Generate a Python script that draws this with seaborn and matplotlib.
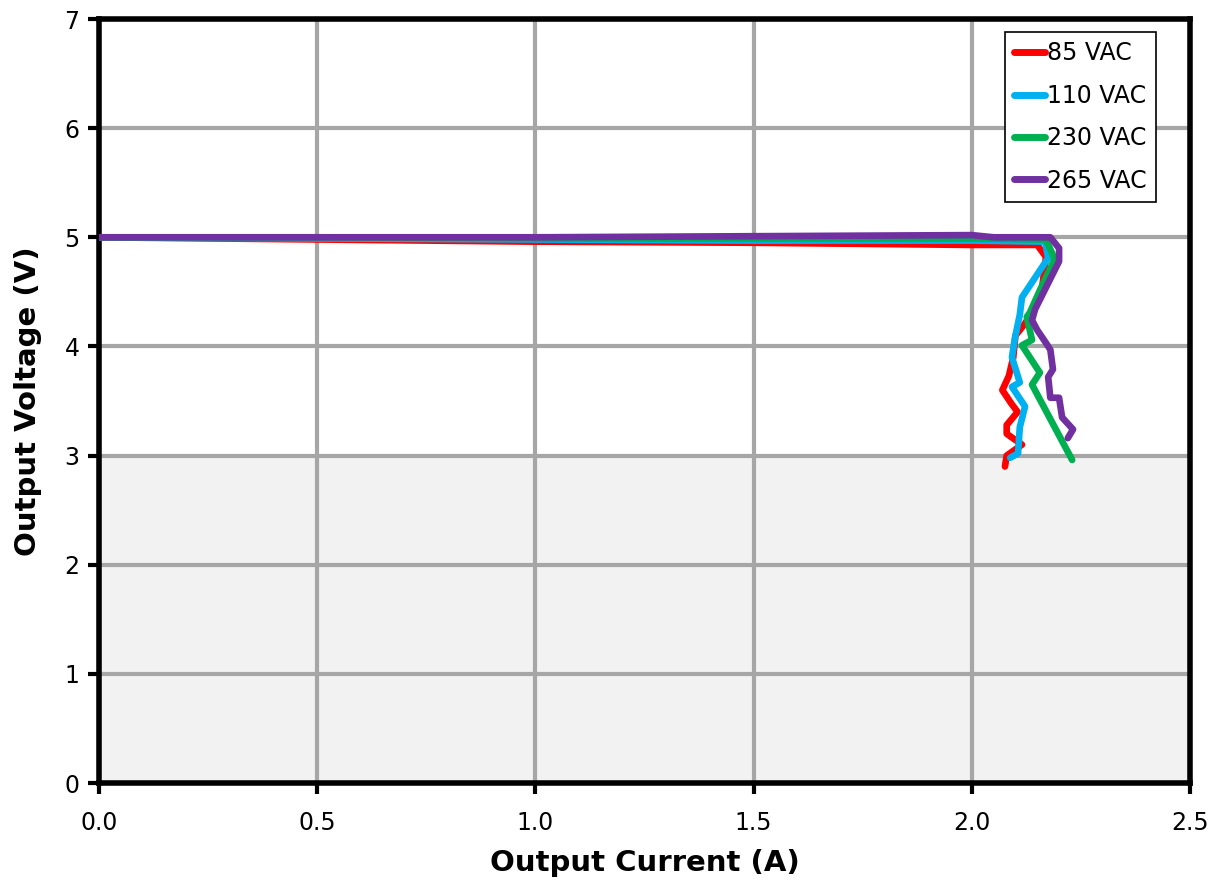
import numpy as np
import pandas as pd
import matplotlib
matplotlib.use("Agg")
import matplotlib.pyplot as plt
import seaborn as sns

series_names = ["85 VAC", "110 VAC", "230 VAC", "265 VAC"]
colors = ["#FF0000", "#00B0F0", "#00B050", "#7030A0"]

i_85 = [0.0, 0.5, 1.0, 1.5, 2.0, 2.15, 2.17, 2.16, 2.14, 2.12, 2.10, 2.095, 2.085, 2.07, 2.09, 2.105, 2.08, 2.08, 2.115, 2.08, 2.076]
v_85 = [5.0, 4.98, 4.96, 4.95, 4.93, 4.93, 4.82, 4.50, 4.32, 4.20, 4.10, 3.90, 3.73, 3.60, 3.48, 3.40, 3.28, 3.20, 3.10, 3.00, 2.90]

i_110 = [0.0, 0.5, 1.0, 1.5, 2.0, 2.168, 2.175, 2.115, 2.11, 2.099, 2.092, 2.11, 2.092, 2.122, 2.11, 2.106, 2.088]
v_110 = [5.0, 4.99, 4.98, 4.97, 4.97, 4.96, 4.81, 4.45, 4.29, 4.08, 3.90, 3.67, 3.63, 3.45, 3.26, 3.02, 2.98]

i_230 = [0.0, 0.5, 1.0, 1.5, 2.0, 2.17, 2.19, 2.16, 2.133, 2.126, 2.138, 2.115, 2.156, 2.138, 2.23]
v_230 = [5.0, 5.0, 4.99, 4.99, 4.99, 4.98, 4.80, 4.55, 4.31, 4.27, 4.06, 4.01, 3.76, 3.65, 2.96]

i_265 = [0.0, 0.5, 1.0, 1.5, 2.0, 2.05, 2.18, 2.20, 2.20, 2.145, 2.138, 2.15, 2.172, 2.18, 2.186, 2.175, 2.18, 2.20, 2.207, 2.232, 2.22]
v_265 = [5.0, 5.0, 5.0, 5.01, 5.02, 5.0, 5.0, 4.90, 4.78, 4.34, 4.24, 4.15, 4.02, 3.97, 3.79, 3.72, 3.53, 3.53, 3.35, 3.24, 3.16]

x_ticks = [0.0, 0.5, 1.0, 1.5, 2.0, 2.5]
y_ticks = [0, 1, 2, 3, 4, 5, 6, 7]

frames = []
for name, xs, ys in zip(series_names, [i_85, i_110, i_230, i_265], [v_85, v_110, v_230, v_265]):
    frames.append(pd.DataFrame({"current": xs, "voltage": ys, "series": name}))
df = pd.concat(frames, ignore_index=True)

sns.set_style("white")
plt.rcParams["font.family"] = ["DejaVu Sans"]
plt.rcParams["text.color"] = "black"
plt.rcParams["axes.labelcolor"] = "black"
plt.rcParams["xtick.color"] = "black"
plt.rcParams["ytick.color"] = "black"

fig = plt.figure(figsize=(12.23, 8.88), dpi=100)
ax = fig.add_axes([0.081, 0.1182, 0.892, 0.8604])

ax.axhspan(0, 3, color="#F2F2F2", zorder=0.1, lw=0)

sns.lineplot(data=df, x="current", y="voltage", hue="series", hue_order=series_names,
             palette=colors, sort=False, estimator=None, units="series", lw=4.8,
             solid_capstyle="round", ax=ax, zorder=3, legend=True)

ax.set_xlim(0, 2.5)
ax.set_ylim(0, 7)
ax.set_xticks(x_ticks)
ax.set_xticklabels([f"{t:.1f}" for t in x_ticks])
ax.set_yticks(y_ticks)
ax.set_yticklabels([str(t) for t in y_ticks])

ax.set_axisbelow(True)
ax.grid(True, color="#A6A6A6", lw=3)

for s in ax.spines.values():
    s.set_color("black")
    s.set_linewidth(4)
    s.set_visible(True)

ax.tick_params(axis="both", which="major", direction="out", length=8, width=3,
               color="black", labelcolor="black", labelsize=17, pad=6, bottom=True, left=True)
ax.tick_params(axis="x", pad=12)

ax.set_xlabel("Output Current (A)", fontsize=21, fontweight="bold", labelpad=10, color="black")
ax.set_ylabel("Output Voltage (V)", fontsize=21, fontweight="bold", labelpad=16, color="black")

leg = ax.legend(loc="upper right", bbox_to_anchor=(0.969, 0.983), fontsize=17,
                frameon=True, fancybox=False, edgecolor="black", framealpha=1,
                handlelength=1.3, handletextpad=0.1, borderpad=0.4, labelspacing=0.78,
                borderaxespad=0)
leg.get_frame().set_linewidth(1.2)
for text in leg.get_texts():
    text.set_color("black")
for line in leg.get_lines():
    line.set_linewidth(5)
    line.set_solid_capstyle("round")

fig.savefig("out.png", dpi=100)
